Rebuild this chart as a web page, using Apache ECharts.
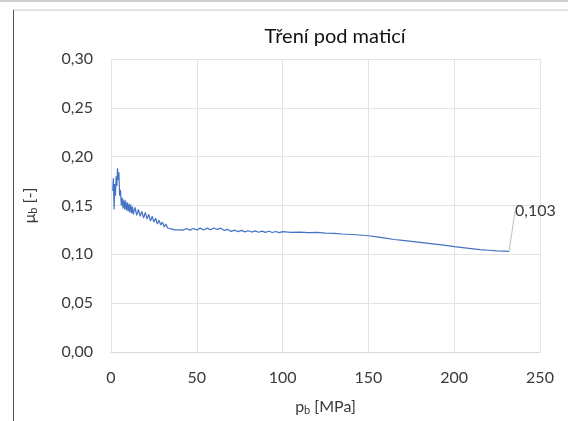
<!DOCTYPE html>
<html>
<head>
<meta charset="utf-8">
<script src="https://cdn.jsdelivr.net/npm/echarts@6/dist/echarts.min.js"></script>
<style>
html,body{margin:0;padding:0;background:#fff;}
#c{width:568px;height:421px;}
</style>
</head>
<body>
<div id="c"></div>
<script>
const chartTitle = 'Tření pod maticí';
const xTicks = [0, 50, 100, 150, 200, 250];
const yTicks = [0, 0.05, 0.10, 0.15, 0.20, 0.25, 0.30];
const pbValues = [1.0,1.4,1.8,2.2,2.6,3.0,3.4,3.8,4.2,4.6,5.0,5.5,6.0,6.5,7.0,7.5,8.0,8.5,9.0,9.5,10,10.5,11,11.5,12,12.5,13,14,15,16,17,18,19,20,21,22,23,24,25,26,27,28,29,30,31,32,33,34,35,36,37,38,39,40,42,44,46,48,50,52,54,56,58,60,62,64,66,68,70,72,74,76,78,80,82,84,86,88,90,92,94,96,98,100,105,110,115,120,125,130,135,140,145,150,155,160,165,170,175,180,185,190,195,200,205,210,215,220,225,232];
const muValues = [0.165,0.178,0.146,0.172,0.160,0.180,0.170,0.188,0.176,0.184,0.160,0.166,0.150,0.158,0.147,0.156,0.146,0.155,0.145,0.153,0.144,0.152,0.143,0.151,0.142,0.149,0.141,0.148,0.140,0.146,0.139,0.144,0.137,0.143,0.136,0.141,0.134,0.139,0.133,0.137,0.131,0.135,0.130,0.133,0.128,0.131,0.127,0.129,0.126,0.128,0.125,0.127,0.125,0.1265,0.1248,0.1265,0.1248,0.1265,0.125,0.1268,0.125,0.1268,0.1252,0.127,0.1255,0.1268,0.1245,0.1255,0.1235,0.1248,0.1232,0.1245,0.123,0.1242,0.1228,0.124,0.1226,0.1238,0.1225,0.1236,0.1224,0.1234,0.1222,0.1232,0.1225,0.1228,0.1222,0.1225,0.1218,0.1215,0.1208,0.1203,0.1198,0.119,0.1178,0.1165,0.1152,0.1142,0.1132,0.1122,0.1112,0.1102,0.1092,0.1078,0.1068,0.1058,0.1048,0.1042,0.1035,0.103];

const font = 'Lato, "Open Sans", sans-serif';
const txt = '#3a3a3a';
const lastIdx = pbValues.length - 1;
const seriesData = pbValues.map((x, i) => {
  const item = { value: [x, muValues[i]] };
  if (i === lastIdx) {
    item.label = {
      show: true,
      formatter: p => p.value[1].toFixed(3).replace('.', ','),
      color: txt, fontSize: 16, fontFamily: font
    };
    item.labelLine = { show: true, lineStyle: { color: '#bfbfbf', width: 1 } };
  }
  return item;
});

const chart = echarts.init(document.getElementById('c'));
chart.setOption({
  animation: false,
  backgroundColor: '#fff',
  title: {
    text: chartTitle, left: 330, top: 22, textAlign: 'center',
    textStyle: { fontFamily: font, fontSize: 20, fontWeight: 'normal', color: '#111' }
  },
  grid: { left: 111, right: 28, top: 59, bottom: 66 },
  xAxis: {
    type: 'value', min: xTicks[0], max: xTicks[xTicks.length - 1], interval: 50,
    name: '{a|p}{s|b}{a| [MPa]}', nameLocation: 'middle', nameGap: 46,
    nameTextStyle: { rich: {
      a: { fontFamily: font, fontSize: 16, color: txt },
      s: { fontFamily: font, fontSize: 11, color: txt, padding: [7, 0, 0, 0] }
    } },
    axisLine: { show: true, lineStyle: { color: '#d9d9d9' } },
    axisTick: { show: false },
    axisLabel: { fontFamily: font, fontSize: 16, color: txt, margin: 18 },
    splitLine: { show: true, lineStyle: { color: '#e3e3e3' } }
  },
  yAxis: {
    type: 'value', min: yTicks[0], max: yTicks[yTicks.length - 1], interval: 0.05,
    name: '{a|μ}{s|b}{a| [-]}', nameLocation: 'middle', nameGap: 72, nameRotate: 90,
    nameTextStyle: { rich: {
      a: { fontFamily: font, fontSize: 16, color: txt },
      s: { fontFamily: font, fontSize: 11, color: txt, padding: [7, 0, 0, 0] }
    } },
    axisLine: { show: false },
    axisTick: { show: false },
    axisLabel: { fontFamily: font, fontSize: 16, color: txt, margin: 18,
      formatter: v => v.toFixed(2).replace('.', ',') },
    splitLine: { show: true, lineStyle: { color: '#e3e3e3' } }
  },
  series: [{
    type: 'line', data: seriesData, showSymbol: true, showAllSymbol: true,
    symbol: 'circle', symbolSize: 0,
    lineStyle: { color: '#4472C4', width: 1.2 },
    itemStyle: { color: '#4472C4' },
    labelLayout: p => p.dataIndex === lastIdx ? { x: 515, y: 203 } : {}
  }],
  graphic: [
    { type: 'line', shape: { x1: 0, y1: 1, x2: 568, y2: 1 }, style: { stroke: '#a0a0a0', lineWidth: 1 } },
    { type: 'line', shape: { x1: 13, y1: 10, x2: 568, y2: 10 }, style: { stroke: '#c8c8c8', lineWidth: 1 } },
    { type: 'line', shape: { x1: 13.5, y1: 10, x2: 13.5, y2: 421 }, style: { stroke: '#555', lineWidth: 1 } }
  ]
});
</script>
</body>
</html>
